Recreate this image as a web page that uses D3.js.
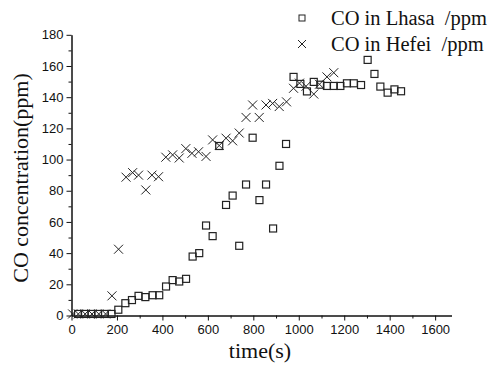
<!DOCTYPE html>
<html>
  <head>
    <meta charset="utf-8">
    <title>CO concentration</title>
    <script src="https://d3js.org/d3.v7.min.js"></script>
    <style>
      body { margin: 0; background: #fff; }
      svg { display: block; }
      .tick text { font-family: "Liberation Sans", Arial, sans-serif; font-size: 13px; fill: #111; }
      .axis path, .axis line { stroke: #111; stroke-width: 1; }
      .title { font-family: "Liberation Serif", "Times New Roman", serif; font-size: 22px; fill: #111; }
      .legend { font-family: "Liberation Serif", "Times New Roman", serif; font-size: 20.5px; fill: #111; white-space: pre; }
    </style>
  </head>
  <body>
    <svg id="chart" width="502" height="367"></svg>
    <script>
      // data
      lhasaTime = [29, 58, 88, 117, 147, 176, 206, 237, 266, 295, 325, 357, 386, 416, 445, 474, 504, 533, 562, 592, 621, 650, 680, 709, 738, 768, 797, 827, 856, 887, 915, 944, 977, 1007, 1036, 1066, 1095, 1124, 1154, 1183, 1212, 1242, 1274, 1303, 1333, 1359, 1391, 1421, 1450];
      lhasaCO = [1, 1, 1, 1, 1, 1, 3.7, 7.9, 9.9, 12.6, 11.8, 13, 13, 18.6, 22.7, 21.8, 23.5, 37.8, 40, 57.7, 50.9, 108.7, 70.9, 76.9, 44.7, 84, 114, 74, 84, 55.8, 96, 110, 153, 148.5, 143.7, 149.8, 148, 147.2, 147.2, 147.2, 148.9, 148.9, 147.8, 163.9, 154.9, 146.8, 142.9, 145, 143.8];
      hefeiTime = [5, 30, 60, 90, 120, 150, 178, 207, 240, 269, 295, 327, 354, 383, 415, 445, 474, 503, 530, 559, 592, 621, 650, 680, 709, 738, 768, 797, 826, 856, 885, 914, 946, 977, 1003, 1032, 1066, 1091, 1124, 1154];
      hefeiCO = [1, 1, 1, 1, 1, 1, 12.6, 42.5, 88.7, 91.6, 90, 80.5, 90, 89, 101.5, 103, 101, 107, 104, 105, 102, 112.6, 109, 113.7, 112, 117, 127, 135, 127, 135, 136, 134, 137, 145.7, 149, 147, 142, 148.3, 153, 155.7];
      xTicks = [0, 200, 400, 600, 800, 1000, 1200, 1400, 1600];
      yTicks = [0, 20, 40, 60, 80, 100, 120, 140, 160, 180];
      legendLabels = ["CO in Lhasa  /ppm", "CO in Hefei  /ppm"];

      svg = d3.select("#chart");
      x = d3.scaleLinear().domain([0, 1672]).range([71.5, 451.5]);
      y = d3.scaleLinear().domain([0, 180]).range([315.5, 34.8]);

      // minor ticks first, then major
      svg.append("g").attr("class", "axis")
        .attr("transform", "translate(0,315.5)")
        .call(d3.axisBottom(x).tickValues(d3.range(100, 1700, 200)).tickSize(3).tickSizeOuter(0).tickFormat(""));
      svg.append("g").attr("class", "axis")
        .attr("transform", "translate(0,315.5)")
        .call(d3.axisBottom(x).tickValues(xTicks).tickSize(5).tickSizeOuter(0).tickPadding(4).tickFormat(d3.format("d")));
      svg.append("g").attr("class", "axis")
        .attr("transform", "translate(71.5,0)")
        .call(d3.axisLeft(y).tickValues(d3.range(10, 180, 20)).tickSize(3).tickSizeOuter(0).tickFormat(""));
      svg.append("g").attr("class", "axis")
        .attr("transform", "translate(71.5,0)")
        .call(d3.axisLeft(y).tickValues(yTicks).tickSize(5).tickSizeOuter(0).tickPadding(3).tickFormat(d3.format("d")));

      // axis titles
      svg.append("text").attr("class", "title")
        .attr("transform", "translate(28,178) rotate(-90)")
        .attr("text-anchor", "middle")
        .text("CO concentration(ppm)");
      svg.append("text").attr("class", "title")
        .attr("x", 260).attr("y", 358)
        .attr("text-anchor", "middle")
        .text("time(s)");

      // markers
      sq = 7;
      function cross(cx, cy, r) {
        return "M" + (cx - r) + "," + (cy - r) + "L" + (cx + r) + "," + (cy + r) +
          "M" + (cx - r) + "," + (cy + r) + "L" + (cx + r) + "," + (cy - r);
      }
      svg.append("g").selectAll("path")
          .data(d3.range(hefeiTime.length))
        .enter().append("path")
          .attr("d", function(i) { return cross(x(hefeiTime[i]), y(hefeiCO[i]), 4.5); })
          .attr("stroke", "#222").attr("stroke-width", 1).attr("fill", "none");
      svg.append("g").selectAll("rect")
          .data(d3.range(lhasaTime.length))
        .enter().append("rect")
          .attr("x", function(i) { return x(lhasaTime[i]) - sq / 2; })
          .attr("y", function(i) { return y(lhasaCO[i]) - sq / 2; })
          .attr("width", sq).attr("height", sq)
          .attr("stroke", "#222").attr("stroke-width", 1.2).attr("fill", "none");

      // legend
      legend = svg.append("g");
      legend.append("rect")
        .attr("x", 299).attr("y", 15).attr("width", 6).attr("height", 6)
        .attr("stroke", "#222").attr("fill", "none");
      legend.append("path")
        .attr("d", cross(302, 44, 4))
        .attr("stroke", "#222").attr("fill", "none");
      legend.selectAll(".legend")
          .data(legendLabels)
        .enter().append("text")
          .attr("class", "legend")
          .attr("x", 331)
          .attr("y", function(d, i) { return 25 + i * 26; })
          .text(function(d) { return d; });
    </script>
  </body>
</html>
